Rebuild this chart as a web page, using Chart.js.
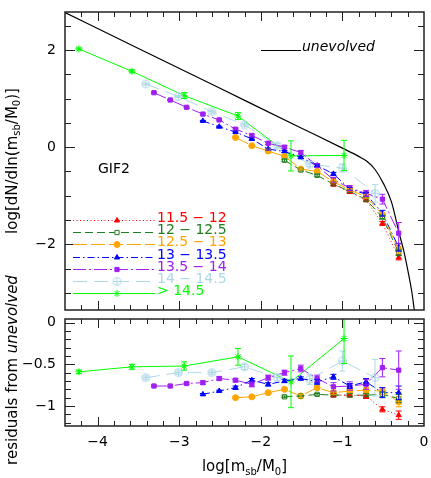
<!DOCTYPE html>
<html>
<head>
<meta charset="utf-8">
<script src="https://cdn.jsdelivr.net/npm/chart.js@4"></script>
<style>
  html, body { margin: 0; padding: 0; background: #fff; }
  #wrap { position: relative; width: 431px; height: 478px; }
  canvas { position: absolute; left: 0; top: 0; }
</style>
</head>
<body>
<div id="wrap">
  <canvas id="topPanel" width="431" height="478"></canvas>
  <canvas id="botPanel" width="431" height="478"></canvas>
</div>
<script>
// unevolved mass function
const unevX = [-4.4, -3.5, -2.5, -1.5, -1.0, -0.8, -0.7, -0.6, -0.5, -0.4, -0.3, -0.25, -0.2, -0.15, -0.1];
const unevY = [2.77, 2.03, 1.21, 0.39, -0.02, -0.19, -0.29, -0.46, -0.74, -1.12, -1.80, -2.12, -2.52, -2.97, -3.6];

const binLabels = ['11.5 − 12', '12 − 12.5', '12.5 − 13', '13 − 13.5', '13.5 − 14', '14 − 14.5', '> 14.5'];

// 11.5 - 12
const redX = [-1.11, -0.91, -0.71, -0.51, -0.31];
const redTop = [-0.77, -0.92, -1.09, -1.57, -2.27];
const redTopErr = [0.02, 0.02, 0.03, 0.04, 0.05];
const redRes = [-0.87, -0.87, -0.88, -1.04, -1.11];
const redResErr = [0.02, 0.02, 0.03, 0.03, 0.05];

// 12 - 12.5
const dgreenX = [-1.71, -1.51, -1.31, -1.11, -0.91, -0.71, -0.51, -0.31];
const dgreenTop = [-0.27, -0.47, -0.58, -0.76, -0.91, -1.08, -1.44, -2.17];
const dgreenTopErr = [0.02, 0.02, 0.02, 0.02, 0.02, 0.03, 0.03, 0.06];
const dgreenRes = [-0.89, -0.88, -0.86, -0.87, -0.87, -0.87, -0.86, -0.91];
const dgreenResErr = [0.01, 0.01, 0.01, 0.01, 0.02, 0.02, 0.03, 0.05];

// 12.5 - 13
const orangeX = [-2.31, -2.11, -1.91, -1.71, -1.51, -1.31, -1.11, -0.91, -0.71, -0.51, -0.31];
const orangeTop = [0.20, 0.03, -0.08, -0.19, -0.45, -0.50, -0.71, -0.88, -1.02, -1.39, -2.11];
const orangeTopErr = [0.01, 0.01, 0.01, 0.02, 0.02, 0.02, 0.02, 0.02, 0.03, 0.04, 0.07];
const orangeRes = [-0.90, -0.89, -0.84, -0.80, -0.88, -0.78, -0.84, -0.82, -0.81, -0.82, -0.95];
const orangeResErr = [0.01, 0.01, 0.01, 0.01, 0.02, 0.02, 0.02, 0.02, 0.03, 0.04, 0.06];

// 13 - 13.5
const blueX = [-2.71, -2.51, -2.31, -2.11, -1.91, -1.71, -1.51, -1.31, -1.11, -0.91, -0.71, -0.51, -0.31];
const blueTop = [0.54, 0.42, 0.31, 0.17, -0.04, -0.09, -0.21, -0.38, -0.55, -0.86, -0.97, -1.36, -2.06];
const blueTopErr = [0.01, 0.01, 0.02, 0.02, 0.02, 0.02, 0.02, 0.03, 0.03, 0.03, 0.04, 0.06, 0.08];
const blueRes = [-0.86, -0.82, -0.78, -0.69, -0.74, -0.70, -0.67, -0.71, -0.65, -0.76, -0.71, -0.84, -0.84];
const blueResErr = [0.01, 0.01, 0.02, 0.02, 0.02, 0.02, 0.02, 0.03, 0.03, 0.03, 0.04, 0.06, 0.08];

// 13.5 - 14
const purpleX = [-3.31, -3.11, -2.91, -2.71, -2.51, -2.31, -2.11, -1.91, -1.71, -1.51, -1.31, -1.11, -0.91, -0.71, -0.51, -0.31];
const purpleTop = [1.12, 0.97, 0.82, 0.68, 0.56, 0.37, 0.24, 0.08, 0.00, -0.11, -0.38, -0.67, -0.84, -0.95, -1.07, -1.77];
const purpleTopErr = [0.01, 0.01, 0.01, 0.02, 0.02, 0.02, 0.03, 0.03, 0.03, 0.04, 0.04, 0.05, 0.05, 0.06, 0.10, 0.22];
const purpleRes = [-0.76, -0.76, -0.73, -0.72, -0.67, -0.69, -0.74, -0.66, -0.60, -0.55, -0.67, -0.77, -0.76, -0.74, -0.54, -0.57];
const purpleResErr = [0.01, 0.01, 0.01, 0.02, 0.02, 0.02, 0.03, 0.03, 0.03, 0.04, 0.04, 0.05, 0.05, 0.06, 0.11, 0.23];

// 14 - 14.5
const lblueX = [-3.41, -3.01, -2.60, -2.20, -1.80, -1.40, -1.00, -0.60];
const lblueTop = [1.30, 1.04, 0.73, 0.46, 0.03, -0.35, -0.43, -0.95];
const lblueTopErr = [0.02, 0.02, 0.03, 0.03, 0.04, 0.05, 0.08, 0.18];
const lblueRes = [-0.66, -0.60, -0.60, -0.53, -0.66, -0.68, -0.46, -0.66];
const lblueResErr = [0.02, 0.02, 0.02, 0.03, 0.04, 0.06, 0.12, 0.22];

// > 14.5
const greenX = [-4.23, -3.58, -2.94, -2.28, -1.63, -0.98];
const greenTop = [2.02, 1.56, 1.06, 0.64, -0.18, -0.17];
const greenTopErr = [0.02, 0.03, 0.06, 0.07, 0.31, 0.31];
const greenRes = [-0.59, -0.53, -0.52, -0.41, -0.71, -0.19];
const greenResErr = [0.02, 0.03, 0.05, 0.10, 0.31, 0.30];

const FONT = "'DejaVu Sans', 'Liberation Sans', sans-serif";
const fnt = (size, italic) => (italic ? 'oblique ' : '') + size + 'px ' + FONT;
const minus = v => (v < 0 ? '\u2212' + Math.abs(v) : String(v));

// circle-with-plus marker for the 14-14.5 bin
function oplus(color) {
  const c = document.createElement('canvas');
  c.width = 11; c.height = 11;
  const g = c.getContext('2d');
  g.strokeStyle = color; g.lineWidth = 1;
  g.beginPath(); g.arc(5.5, 5.5, 4, 0, Math.PI * 2); g.stroke();
  g.beginPath(); g.moveTo(5.5, 2); g.lineTo(5.5, 9); g.moveTo(2, 5.5); g.lineTo(9, 5.5); g.stroke();
  return c;
}

const styles = [
  { color: '#ff0000', dash: [1, 2.5], point: 'triangle', fill: true },
  { color: '#1f7f1f', dash: [8, 4], point: 'rect', fill: false },
  { color: '#ffa500', dash: [14, 4], point: 'circle', fill: true },
  { color: '#0000ff', dash: [7, 3, 1.5, 3], point: 'triangle', fill: true },
  { color: '#a020f0', dash: [13, 3, 2, 3], point: 'rect', fill: true },
  { color: '#add8e6', dash: [14, 7], point: oplus('#add8e6'), fill: false },
  { color: '#00ff00', dash: [], point: 'star', fill: false }
];

const seriesTop = [
  [redX, redTop, redTopErr], [dgreenX, dgreenTop, dgreenTopErr], [orangeX, orangeTop, orangeTopErr],
  [blueX, blueTop, blueTopErr], [purpleX, purpleTop, purpleTopErr], [lblueX, lblueTop, lblueTopErr],
  [greenX, greenTop, greenTopErr]
];
const seriesRes = [
  [redX, redRes, redResErr], [dgreenX, dgreenRes, dgreenResErr], [orangeX, orangeRes, orangeResErr],
  [blueX, blueRes, blueResErr], [purpleX, purpleRes, purpleResErr], [lblueX, lblueRes, lblueResErr],
  [greenX, greenRes, greenResErr]
];

function makeDatasets(series) {
  return series.map(([xs, ys, es], i) => {
    const s = styles[i];
    return {
      data: xs.map((x, j) => ({ x: x, y: ys[j] })),
      errs: es,
      borderColor: s.color,
      backgroundColor: s.color,
      borderWidth: 1,
      borderDash: s.dash,
      pointStyle: s.point,
      pointRadius: s.point === 'star' ? 3.5 : 3,
      pointBorderWidth: 1,
      pointBorderColor: s.color,
      pointBackgroundColor: s.fill ? s.color : '#ffffff',
      tension: 0,
      fill: false
    };
  });
}

// error bars with small caps
const errorBars = {
  id: 'errorBars',
  afterDatasetsDraw(chart) {
    const { ctx, chartArea: a, scales: { y } } = chart;
    ctx.save();
    ctx.beginPath(); ctx.rect(a.left, a.top, a.right - a.left, a.bottom - a.top); ctx.clip();
    chart.data.datasets.forEach((ds, i) => {
      if (!ds.errs) return;
      const meta = chart.getDatasetMeta(i);
      ctx.strokeStyle = ds.borderColor; ctx.lineWidth = 1; ctx.setLineDash([]);
      ctx.beginPath();
      meta.data.forEach((pt, j) => {
        const v = ds.data[j].y, e = ds.errs[j];
        const y1 = y.getPixelForValue(v + e), y2 = y.getPixelForValue(v - e);
        ctx.moveTo(pt.x, y1); ctx.lineTo(pt.x, y2);
        ctx.moveTo(pt.x - 3, y1); ctx.lineTo(pt.x + 3, y1);
        ctx.moveTo(pt.x - 3, y2); ctx.lineTo(pt.x + 3, y2);
      });
      ctx.stroke();
    });
    ctx.restore();
  }
};

// text with subscripts / italics; parts = [text, sub, italic]
function richText(ctx, parts, x, y, size) {
  let w = 0;
  parts.forEach(p => { ctx.font = fnt(p[1] ? size - 5 : size, p[2]); w += ctx.measureText(p[0]).width; });
  let cx = x - w / 2;
  ctx.textAlign = 'left';
  parts.forEach(p => {
    ctx.font = fnt(p[1] ? size - 5 : size, p[2]);
    ctx.fillText(p[0], cx, y + (p[1] ? 4 : 0));
    cx += ctx.measureText(p[0]).width;
  });
}

function drawFrame(chart, yStep, kFrom, kTo, yMajorEvery) {
  const { ctx, chartArea: a, scales: { x, y } } = chart;
  ctx.save();
  ctx.strokeStyle = '#222'; ctx.lineWidth = 1;
  ctx.beginPath();
  for (let k = -22; k <= 0; k++) {
    const px = Math.round(x.getPixelForValue(k * 0.2)) + 0.5;
    if (px < a.left + 2 || px > a.right - 2) continue;
    const len = k % 5 === 0 ? 9 : 5;
    ctx.moveTo(px, a.top); ctx.lineTo(px, a.top + len);
    ctx.moveTo(px, a.bottom); ctx.lineTo(px, a.bottom - len);
  }
  for (let k = kFrom; k <= kTo; k++) {
    const py = Math.round(y.getPixelForValue(k * yStep)) + 0.5;
    if (py < a.top + 2 || py > a.bottom - 2) continue;
    const len = k % yMajorEvery === 0 ? 10 : 6;
    ctx.moveTo(a.left, py); ctx.lineTo(a.left + len, py);
    ctx.moveTo(a.right, py); ctx.lineTo(a.right - len, py);
  }
  ctx.stroke();
  ctx.lineWidth = 1.5;
  ctx.strokeRect(a.left, a.top, a.right - a.left, a.bottom - a.top);
  ctx.restore();
}

function yLabels(chart, vals) {
  const { ctx, scales: { y } } = chart;
  ctx.save();
  ctx.fillStyle = '#000'; ctx.font = fnt(14); ctx.textAlign = 'right'; ctx.textBaseline = 'middle';
  vals.forEach(v => ctx.fillText(minus(v), 56, y.getPixelForValue(v)));
  ctx.restore();
}

const topDecor = {
  id: 'topDecor',
  afterDraw(chart) {
    const { ctx } = chart;
    drawFrame(chart, 0.5, -6, 5, 4);
    yLabels(chart, [2, 0, -2]);
    ctx.save();
    ctx.fillStyle = '#000';
    // y title
    ctx.save();
    ctx.translate(13, 161); ctx.rotate(-Math.PI / 2);
    ctx.textBaseline = 'middle';
    richText(ctx, [['log[dN/dln(m', 0], ['sb', 1], ['/M', 0], ['0', 1], [')]', 0]], 0, 0, 15);
    ctx.restore();
    // unevolved key
    ctx.strokeStyle = '#000'; ctx.lineWidth = 1; ctx.setLineDash([]);
    ctx.beginPath(); ctx.moveTo(261, 50.5); ctx.lineTo(301, 50.5); ctx.stroke();
    ctx.font = fnt(14, true); ctx.textAlign = 'left'; ctx.textBaseline = 'alphabetic';
    ctx.fillText('unevolved', 302, 51);
    ctx.font = fnt(14);
    ctx.fillText('GIF2', 98, 173);
    // bin legend
    const dp = Chart.helpers && Chart.helpers.drawPoint;
    styles.forEach((s, i) => {
      const ly = Math.round(220 + 12.2 * i) + 0.5;
      ctx.strokeStyle = s.color; ctx.lineWidth = 1; ctx.setLineDash(s.dash);
      ctx.beginPath(); ctx.moveTo(73, ly); ctx.lineTo(155, ly); ctx.stroke();
      ctx.setLineDash([]);
      ctx.fillStyle = s.fill ? s.color : '#ffffff';
      if (dp) {
        dp(ctx, { pointStyle: s.point, radius: s.point === 'star' ? 3.5 : 3, rotation: 0, borderWidth: 1 }, 117, ly);
      }
      ctx.fillStyle = s.color; ctx.font = fnt(14); ctx.textAlign = 'left';
      ctx.fillText(binLabels[i], 157, ly + 1.5);
    });
    ctx.restore();
  }
};

const botDecor = {
  id: 'botDecor',
  afterDraw(chart) {
    const { ctx, scales: { x } } = chart;
    drawFrame(chart, 0.1, -12, 0, 5);
    yLabels(chart, [0, -0.5, -1]);
    ctx.save();
    ctx.fillStyle = '#000'; ctx.font = fnt(14); ctx.textAlign = 'center'; ctx.textBaseline = 'middle';
    [-4, -3, -2, -1, 0].forEach(v => ctx.fillText(minus(v), x.getPixelForValue(v), 442));
    ctx.textBaseline = 'alphabetic';
    richText(ctx, [['log[m', 0], ['sb', 1], ['/M', 0], ['0', 1], [']', 0]], 244.5, 471, 15);
    ctx.save();
    ctx.translate(13, 370); ctx.rotate(-Math.PI / 2);
    ctx.textBaseline = 'middle';
    richText(ctx, [['residuals from ', 0, 0], ['unevolved', 0, 1]], 0, 0, 15);
    ctx.restore();
    ctx.restore();
  }
};

const hiddenAxis = (min, max, fit) => ({
  type: 'linear', min: min, max: max,
  ticks: { display: false }, grid: { display: false }, border: { display: false },
  afterFit: fit
});

const common = {
  responsive: false,
  animation: false,
  events: [],
  plugins: { legend: { display: false }, tooltip: { enabled: false } }
};

const topSets = makeDatasets(seriesTop);
topSets.push({
  data: unevX.map((x, j) => ({ x: x, y: unevY[j] })),
  borderColor: '#000', borderWidth: 1.2, pointRadius: 0,
  cubicInterpolationMode: 'monotone', fill: false
});

new Chart(document.getElementById('topPanel'), {
  type: 'line',
  data: { datasets: topSets },
  options: Object.assign({}, common, {
    layout: { padding: { top: 12, right: 7, bottom: 168, left: 0 } },
    scales: {
      x: hiddenAxis(-4.4, 0, s => { s.height = 0; }),
      y: hiddenAxis(-3.35, 2.78, s => { s.width = 65; })
    }
  }),
  plugins: [errorBars, topDecor]
});

new Chart(document.getElementById('botPanel'), {
  type: 'line',
  data: { datasets: makeDatasets(seriesRes) },
  options: Object.assign({}, common, {
    layout: { padding: { top: 319, right: 7, bottom: 52, left: 0 } },
    scales: {
      x: hiddenAxis(-4.4, 0, s => { s.height = 0; }),
      y: hiddenAxis(-1.24, 0.044, s => { s.width = 65; })
    }
  }),
  plugins: [errorBars, botDecor]
});
</script>
</body>
</html>
